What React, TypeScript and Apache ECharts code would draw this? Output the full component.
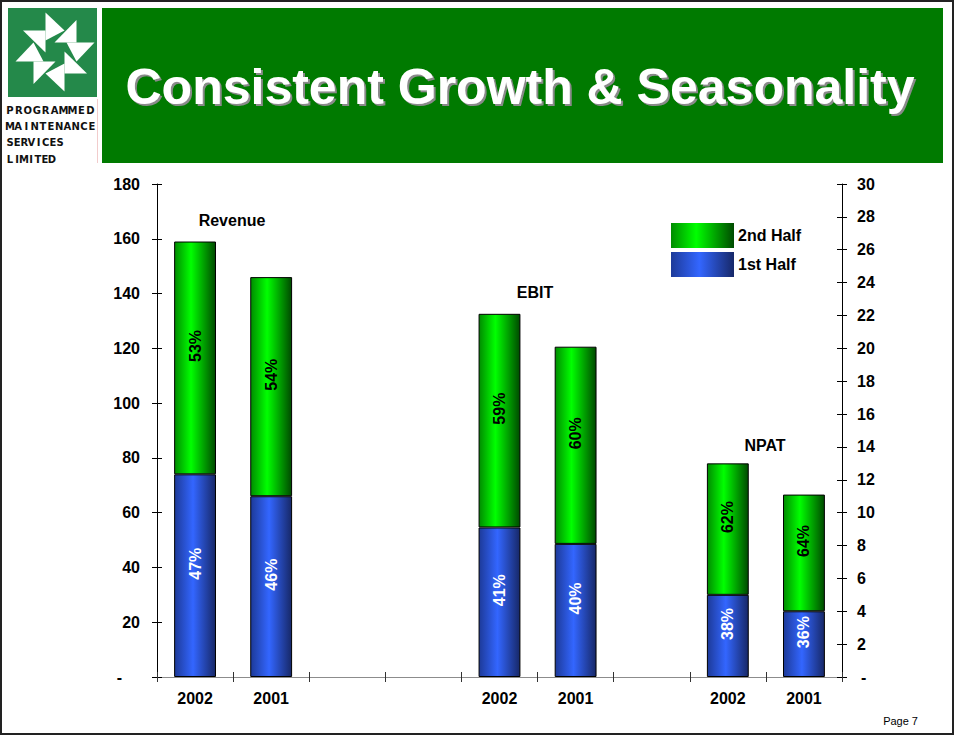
import React, { useEffect, useRef } from 'react';
import * as echarts from 'echarts';

const categories = ['2002', '2001', '', '', '2002', '2001', '', '2002', '2001'];
const groupNames = ['Revenue', 'EBIT', 'NPAT'];
const groupSlots = [[0, 1], [4, 5], [7, 8]];
const revenueFirstHalf = [74, 66];
const revenueSecondHalf = [85, 80];
const ebitFirstHalf = [9.1, 8.1];
const ebitSecondHalf = [13.0, 12.0];
const npatFirstHalf = [5.0, 4.0];
const npatSecondHalf = [8.0, 7.1];
const firstHalfPct = [[47, 46], [41, 40], [38, 36]];
const secondHalfPct = [[53, 54], [59, 60], [62, 64]];
const leftAxisMin = 0;
const leftAxisMax = 180;
const leftAxisStep = 20;
const rightAxisMin = 0;
const rightAxisMax = 30;
const rightAxisStep = 2;
const legendNames = ['2nd Half', '1st Half'];
const titleText = 'Consistent Growth & Seasonality';
const logoLines = ['PROGRAMMED', 'MAINTENANCE', 'SERVICES', 'LIMITED'];
const pageText = 'Page 7';

const FONT = 'Liberation Sans, Arial, sans-serif';

function place(groups: number[], lists: number[][]): (number | null)[] {
  const out: (number | null)[] = categories.map(() => null);
  groups.forEach((g, k) => {
    groupSlots[g].forEach((slot, j) => {
      out[slot] = lists[k][j];
    });
  });
  return out;
}

function pctMap(src: number[][]): (number | null)[] {
  const out: (number | null)[] = categories.map(() => null);
  groupSlots.forEach((slots, g) => slots.forEach((s, j) => (out[s] = src[g][j])));
  return out;
}

const greenGrad = () =>
  new echarts.graphic.LinearGradient(0, 0, 1, 0, [
    { offset: 0, color: '#008c00' },
    { offset: 0.4, color: '#00ff00' },
    { offset: 1, color: '#004a00' },
  ]);
const blueGrad = () =>
  new echarts.graphic.LinearGradient(0, 0, 1, 0, [
    { offset: 0, color: '#1d3a99' },
    { offset: 0.45, color: '#3366ff' },
    { offset: 1, color: '#172868' },
  ]);

export default function App() {
  const ref = useRef<HTMLDivElement>(null);
  useEffect(() => {
    if (!ref.current) return;
    const chart = echarts.init(ref.current, undefined, { renderer: 'svg' });

    const leftFirst = place([0], [revenueFirstHalf]);
    const leftSecond = place([0], [revenueSecondHalf]);
    const rightFirst = place([1, 2], [ebitFirstHalf, npatFirstHalf]);
    const rightSecond = place([1, 2], [ebitSecondHalf, npatSecondHalf]);
    const p1 = pctMap(firstHalfPct);
    const p2 = pctMap(secondHalfPct);

    const labelFirst = {
      show: true,
      position: 'inside',
      rotate: 90,
      offset: [12, 0],
      color: '#fff',
      fontFamily: FONT,
      fontWeight: 'bold',
      fontSize: 16,
      formatter: (p: any) => (p1[p.dataIndex] == null ? '' : p1[p.dataIndex] + '%'),
    };
    const labelSecond = {
      ...labelFirst,
      color: '#000',
      formatter: (p: any) => (p2[p.dataIndex] == null ? '' : p2[p.dataIndex] + '%'),
    };
    const barCommon = {
      type: 'bar',
      barWidth: '55%',
      barGap: '-100%',
      xAxisIndex: 0,
    };

    const graphic: any[] = [];
    // frame
    graphic.push({
      type: 'rect',
      shape: { x: 1, y: 1, width: 952, height: 733 },
      style: { fill: 'none', stroke: '#222', lineWidth: 2 },
      silent: true,
    });
    // logo square
    graphic.push({
      type: 'rect',
      shape: { x: 8, y: 8, width: 89, height: 89 },
      style: { fill: '#24894a' },
    });
    for (let k = 0; k < 4; k++) {
      graphic.push({
        type: 'group',
        x: 55,
        y: 52,
        rotation: (-k * Math.PI) / 2,
        children: [
          {
            type: 'polygon',
            shape: { points: [[-9.5, -39.5], [-9.5, -11.5], [9.5, -21.5]] },
            style: { fill: '#fff' },
          },
          {
            type: 'polygon',
            shape: { points: [[21.5, -32], [21.5, -9.5], [-0.5, -9.5]] },
            style: { fill: '#fff' },
          },
        ],
      });
    }
    const lineSpecs = [
      { y: 110, first: 10, last: 90.3 },
      { y: 126.5, first: 10, last: 92 },
      { y: 142.5, first: 10, last: 60 },
      { y: 159, first: 10, last: 52 },
    ];
    logoLines.forEach((line, li) => {
      const sp = lineSpecs[li];
      const step = (sp.last - sp.first) / (line.length - 1);
      line.split('').forEach((ch, ci) => {
        graphic.push({
          type: 'text',
          x: sp.first + ci * step,
          y: sp.y,
          style: {
            text: ch,
            fill: '#111',
            font: 'bold 10px DejaVu Sans, sans-serif',
            textAlign: 'center',
            textVerticalAlign: 'middle',
          },
        });
      });
    });
    graphic.push({
      type: 'line',
      shape: { x1: 97.5, y1: 99, x2: 97.5, y2: 163 },
      style: { stroke: '#f2cccc', lineWidth: 1 },
    });
    // title box
    graphic.push({
      type: 'rect',
      shape: { x: 102, y: 8, width: 841, height: 155 },
      style: { fill: '#007a00' },
    });
    graphic.push({
      type: 'text',
      x: 520,
      y: 87,
      style: {
        text: titleText,
        fill: '#ffffff',
        font: 'bold 50px ' + FONT,
        textAlign: 'center',
        textVerticalAlign: 'middle',
        textShadowColor: '#8a8a8a',
        textShadowOffsetX: 2,
        textShadowOffsetY: 2,
        textShadowBlur: 1,
      },
    });
    // group labels
    const groupLabelPos = [
      [232, 220],
      [535, 292],
      [765, 445],
    ];
    groupNames.forEach((n, i) => {
      graphic.push({
        type: 'text',
        x: groupLabelPos[i][0],
        y: groupLabelPos[i][1],
        style: {
          text: n,
          fill: '#000',
          font: 'bold 16px ' + FONT,
          textAlign: 'center',
          textVerticalAlign: 'middle',
        },
      });
    });
    graphic.push({
      type: 'text',
      x: 918,
      y: 721,
      style: {
        text: pageText,
        fill: '#000',
        font: '11px ' + FONT,
        textAlign: 'right',
        textVerticalAlign: 'middle',
      },
    });

    const axisLabelStyle = {
      color: '#000',
      fontFamily: FONT,
      fontWeight: 'bold',
      fontSize: 16,
    };

    chart.setOption({
      animation: false,
      backgroundColor: '#fff',
      grid: { left: 157, right: 113, top: 184, bottom: 59, containLabel: false },
      legend: {
        data: legendNames,
        orient: 'vertical',
        left: 671,
        top: 223,
        itemWidth: 63,
        itemHeight: 25,
        itemGap: 4,
        icon: 'rect',
        padding: 0,
        itemStyle: { borderWidth: 0 },
        textStyle: { ...axisLabelStyle, padding: [0, 0, 0, -1] },
        selectedMode: false,
      },
      xAxis: [
        {
          type: 'category',
          data: categories,
          position: 'bottom',
          axisLine: { lineStyle: { color: '#333', width: 1 } },
          axisTick: { show: true, inside: false, length: 5, lineStyle: { color: '#333' } },
          axisLabel: { ...axisLabelStyle, margin: 13, interval: 0 },
        },
        {
          type: 'category',
          data: categories,
          position: 'bottom',
          axisLine: { show: false },
          axisTick: { show: true, inside: true, length: 5, lineStyle: { color: '#333' } },
          axisLabel: { show: false },
        },
        {
          type: 'category',
          data: categories,
          position: 'top',
          axisLine: { lineStyle: { color: '#8c8c8c', width: 1 } },
          axisTick: { show: false },
          axisLabel: { show: false },
        },
      ],
      yAxis: [
        {
          type: 'value',
          position: 'left',
          min: leftAxisMin,
          max: leftAxisMax,
          interval: leftAxisStep,
          splitLine: { show: false },
          axisLine: { show: true, lineStyle: { color: '#000' } },
          axisTick: { show: true, length: 5, lineStyle: { color: '#000' } },
          axisLabel: {
            ...axisLabelStyle,
            margin: 17,
            formatter: (v: number) => (v === 0 ? '{d|-}' : String(v)),
            rich: { d: { ...axisLabelStyle, padding: [0, 18, 0, 0] } },
          },
        },
        {
          type: 'value',
          position: 'right',
          min: rightAxisMin,
          max: rightAxisMax,
          interval: rightAxisStep,
          splitLine: { show: false },
          axisLine: { show: true, lineStyle: { color: '#000' } },
          axisTick: { show: true, length: 5, lineStyle: { color: '#000' } },
          axisLabel: {
            ...axisLabelStyle,
            margin: 15,
            formatter: (v: number) => (v === 0 ? '{d|-}' : String(v)),
            rich: { d: { ...axisLabelStyle, padding: [0, 0, 0, 4] } },
          },
        },
        {
          type: 'value',
          position: 'left',
          min: leftAxisMin,
          max: leftAxisMax,
          interval: leftAxisStep,
          splitLine: { show: false },
          axisLine: { show: false },
          axisTick: { show: true, inside: true, length: 5, lineStyle: { color: '#000' } },
          axisLabel: { show: false },
        },
        {
          type: 'value',
          position: 'right',
          min: rightAxisMin,
          max: rightAxisMax,
          interval: rightAxisStep,
          splitLine: { show: false },
          axisLine: { show: false },
          axisTick: { show: true, inside: true, length: 5, lineStyle: { color: '#000' } },
          axisLabel: { show: false },
        },
      ],
      series: [
        {
          ...barCommon,
          name: '1st Half',
          yAxisIndex: 0,
          stack: 'left',
          data: leftFirst,
          itemStyle: { color: blueGrad(), borderColor: '#000', borderWidth: 1 },
          label: labelFirst,
        },
        {
          ...barCommon,
          name: '2nd Half',
          yAxisIndex: 0,
          stack: 'left',
          data: leftSecond,
          itemStyle: { color: greenGrad(), borderColor: '#000', borderWidth: 1 },
          label: labelSecond,
        },
        {
          ...barCommon,
          name: '1st Half',
          yAxisIndex: 1,
          stack: 'right',
          data: rightFirst,
          itemStyle: { color: blueGrad(), borderColor: '#000', borderWidth: 1 },
          label: labelFirst,
        },
        {
          ...barCommon,
          name: '2nd Half',
          yAxisIndex: 1,
          stack: 'right',
          data: rightSecond,
          itemStyle: { color: greenGrad(), borderColor: '#000', borderWidth: 1 },
          label: labelSecond,
        },
      ],
      graphic,
    });
    return () => chart.dispose();
  }, []);
  return (
    <div
      ref={ref}
      style={{ position: 'absolute', left: 0, top: 0, width: 955, height: 736 }}
    />
  );
}
